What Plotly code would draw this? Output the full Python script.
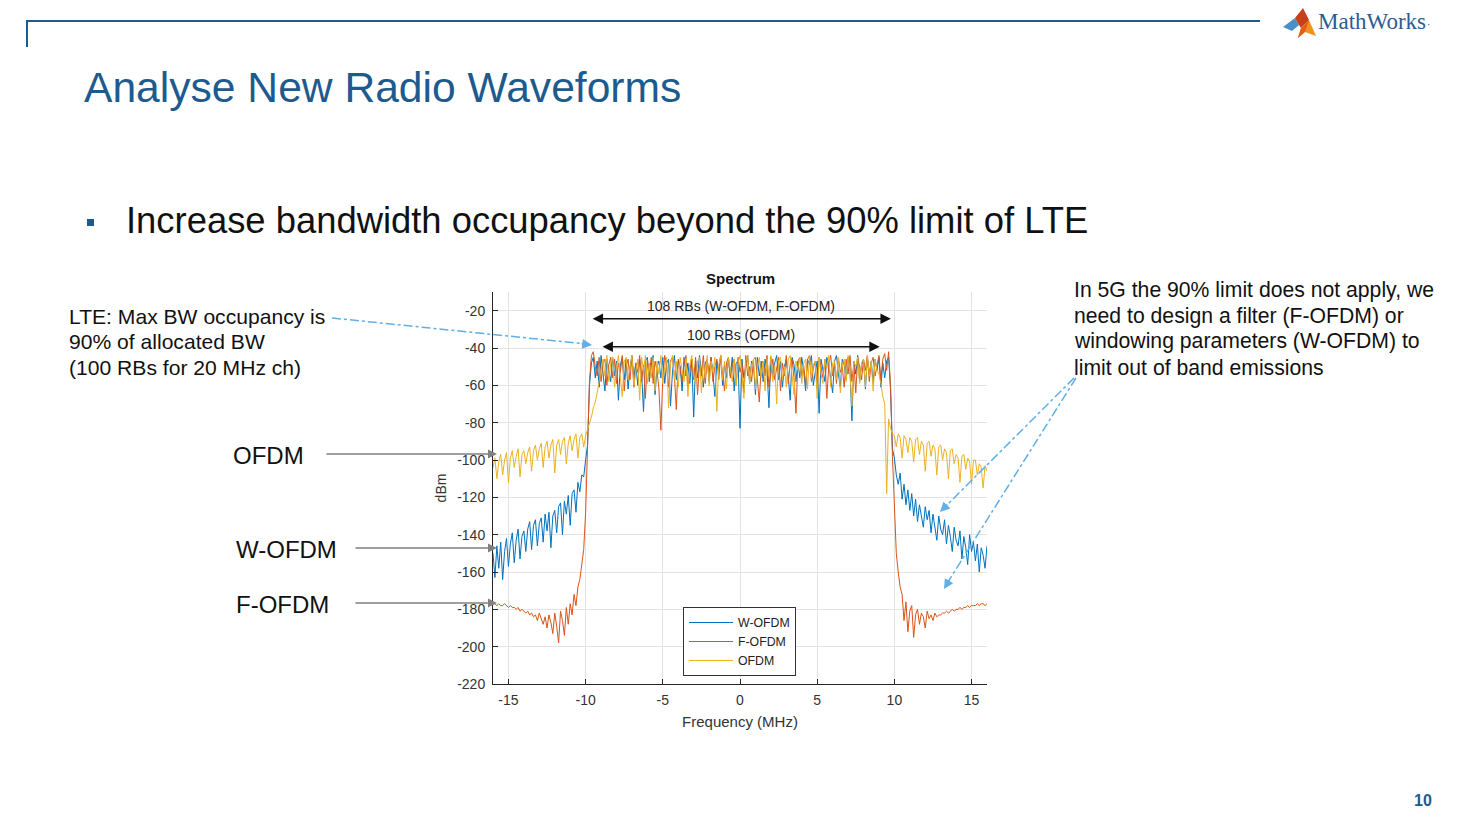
import numpy as np
import plotly.graph_objects as go

W, H = 1459, 821
HY = 813.0   # vertical reference used for placing items on the page

# ---------------- data (dBm) ----------------
# frequency grid: -16 ... 16 MHz, 0.125 MHz apart (257 points)
freq = np.round(np.arange(257) * 0.125 - 16.0, 3)

w_left = [-150, -163, -146, -158, -144, -164, -149, -142, -157,
          -145, -139, -155, -143, -137, -153, -141, -138,
          -149, -137, -133, -148, -135, -132, -146, -134,
          -131, -144, -129, -138, -128, -147, -130, -127,
          -139, -125, -123, -140, -122, -129, -119, -135,
          -118, -116, -128, -112, -117, -108, -109, -100]
w_edge_l = [-92, -60]
w_in = [-48, -45, -56, -47, -61, -44, -54, -63, -46, -52, -58, -45,
        -55, -47, -68, -49, -45, -57, -46, -62, -50, -44, -56, -48,
        -60, -46, -53, -74, -47, -45, -58, -49, -44, -65, -50, -47,
        -56, -45, -59, -48, -46, -71, -53, -44, -57, -47, -50, -63,
        -45, -55, -48, -59, -46, -77, -47, -56, -44, -52, -61, -48,
        -46, -58, -45, -54, -66, -47, -52, -44, -60, -49, -56, -46,
        -55, -45, -63, -48, -47, -83, -46, -56, -50, -44, -59, -47,
        -49, -65, -45, -55, -47, -58, -46, -52, -72, -45, -56, -48,
        -44, -57, -47, -61, -50, -46, -55, -68, -45, -49, -58, -47,
        -56, -45, -52, -63, -46, -49, -44, -60, -53, -47, -75, -46,
        -52, -58, -45, -49, -56, -64, -47, -44, -54, -61, -46, -49,
        -57, -45, -52, -79, -47, -54, -44, -58, -49, -46, -62, -45,
        -54, -47, -59, -46, -52, -45, -61, -48, -56, -47, -45]
w_edge_r = [-62, -94]
w_right = [-99, -108, -113, -107, -121, -113, -124, -116, -127,
           -118, -130, -121, -133, -124, -130, -136, -125,
           -132, -127, -139, -129, -135, -143, -130, -137,
           -140, -132, -145, -135, -141, -149, -136, -143,
           -146, -138, -153, -141, -147, -156, -140, -149,
           -144, -154, -145, -160, -147, -151, -158, -146]

f_left = [-177, -177, -178, -177, -178, -178, -177, -178, -179,
          -178, -179, -179, -180, -179, -181, -180, -181,
          -182, -181, -183, -182, -184, -183, -186, -182,
          -185, -188, -184, -190, -183, -187, -193, -182,
          -189, -198, -181, -186, -194, -179, -188, -177,
          -183, -172, -178, -168, -164, -156, -148, -128]
f_edge_l = [-92, -58]
f_in = [-44, -42, -50, -55, -45, -58, -48, -46, -60, -49, -45, -56,
        -46, -59, -48, -53, -44, -63, -50, -46, -57, -45, -61, -48,
        -53, -44, -58, -49, -67, -46, -55, -45, -59, -47, -52, -62,
        -84, -56, -44, -50, -61, -47, -45, -55, -73, -46, -51, -58,
        -48, -44, -62, -52, -46, -57, -45, -65, -49, -55, -44, -59,
        -47, -53, -45, -58, -50, -46, -57, -44, -55, -63, -48, -45,
        -56, -49, -46, -60, -45, -53, -48, -64, -44, -55, -50, -58,
        -46, -45, -57, -69, -49, -47, -55, -44, -61, -52, -46, -57,
        -50, -45, -63, -48, -55, -44, -59, -49, -46, -56, -75, -47,
        -45, -55, -49, -60, -46, -44, -58, -51, -47, -62, -45, -50,
        -56, -46, -67, -49, -44, -55, -48, -59, -45, -53, -50, -61,
        -46, -54, -44, -58, -48, -64, -45, -50, -57, -46, -52, -44,
        -58, -48, -45, -55, -50, -44, -57, -46, -43, -52, -42]
f_edge_r = [-60, -98]
f_right = [-128, -150, -160, -168, -172, -186, -176, -192, -181,
           -178, -195, -183, -180, -188, -182, -184, -190,
           -181, -185, -183, -186, -182, -184, -183, -183,
           -182, -182, -181, -182, -181, -180, -181, -180,
           -180, -179, -180, -179, -179, -178, -179, -178,
           -178, -178, -177, -178, -177, -177, -178, -177]

o_left = [-104, -99, -110, -101, -97, -108, -100, -96, -112,
          -99, -95, -104, -98, -94, -109, -97, -95,
          -102, -96, -93, -106, -95, -92, -100, -94,
          -91, -104, -93, -90, -99, -92, -89, -107,
          -92, -89, -97, -90, -88, -102, -91, -87,
          -95, -89, -86, -99, -88, -86, -93, -87]
o_ramp_l = [-84, -80, -77, -72, -69, -64, -58, -53]
o_in = [-46, -55, -44, -58, -48, -45, -61, -50, -44, -56, -66, -47,
        -45, -57, -49, -44, -60, -53, -46, -68, -45, -52, -44, -59,
        -48, -56, -45, -63, -47, -54, -44, -59, -50, -45, -72, -48,
        -44, -57, -47, -61, -45, -52, -58, -46, -66, -49, -44, -55,
        -59, -47, -45, -64, -48, -56, -44, -60, -47, -53, -45, -74,
        -49, -44, -57, -47, -62, -45, -51, -58, -46, -60, -48, -44,
        -54, -67, -47, -44, -59, -49, -46, -62, -50, -45, -56, -47,
        -63, -46, -55, -44, -58, -49, -70, -47, -45, -57, -50, -61,
        -46, -44, -55, -65, -47, -52, -45, -59, -48, -46, -62, -44,
        -56, -49, -47, -67, -45, -54, -59, -46, -51, -44, -61, -48,
        -47, -57, -45, -64, -49, -46, -58, -44, -53, -71, -47, -50,
        -45, -59, -48, -46, -61, -44, -55, -47, -63, -46, -52]
o_ramp_r = [-54, -59, -66, -70, -118, -78, -83, -86]
o_right = [-87, -93, -86, -88, -99, -87, -89, -96, -88,
           -90, -101, -89, -88, -97, -90, -92, -106,
           -91, -90, -98, -92, -94, -108, -93, -92,
           -100, -94, -96, -110, -95, -94, -102, -97,
           -99, -112, -98, -97, -105, -99, -101, -113,
           -100, -100, -108, -102, -104, -115, -103, -106]

w_ofdm = w_left + w_edge_l + w_in + w_edge_r + w_right
f_ofdm = f_left + f_edge_l + f_in + f_edge_r + f_right
ofdm = o_left + o_ramp_l + o_in + o_ramp_r + o_right
assert len(w_ofdm) == len(f_ofdm) == len(ofdm) == len(freq), (len(w_ofdm), len(f_ofdm), len(ofdm))

series_names = ["W-OFDM", "F-OFDM", "OFDM"]
series_vals = [w_ofdm, f_ofdm, ofdm]
series_cols = ["#0072BD", "#D95319", "#EDB120"]

x_ticks = [-15, -10, -5, 0, 5, 10, 15]
y_ticks = [-220, -200, -180, -160, -140, -120, -100, -80, -60, -40, -20]

# ---------------- figure ----------------
FONT = "Liberation Sans, Arial, sans-serif"
BLUE = "#1D5B8F"


def px(x):
    return x / W


def py(y):
    return 1 - y / HY


fig = go.Figure()
for name, vals, col in zip(series_names, series_vals, series_cols):
    fig.add_trace(go.Scatter(x=freq, y=vals, mode="lines", name=name,
                             line=dict(color=col, width=1)))

axis_common = dict(showgrid=True, gridcolor="#e3e3e3", gridwidth=1,
                   showline=True, linecolor="#262626", linewidth=1,
                   ticks="inside", ticklen=5, tickcolor="#262626",
                   tickfont=dict(size=14, color="#333333", family=FONT),
                   zeroline=False, mirror=False)

fig.update_layout(
    width=W, height=H, autosize=False, margin=dict(l=0, r=0, t=0, b=0),
    paper_bgcolor="white", plot_bgcolor="white",
    font=dict(family=FONT, color="#222222"),
    xaxis=dict(domain=[px(493), px(987)], range=[-16, 16], tickvals=x_ticks,
               ticktext=[str(v) for v in x_ticks], ticklabelstandoff=3,
               title=dict(text="Frequency (MHz)", font=dict(size=15, color="#333333"), standoff=9),
               **axis_common),
    yaxis=dict(domain=[py(684), py(292)], range=[-220, -10], tickvals=y_ticks,
               ticktext=[str(v) for v in y_ticks], ticklabelstandoff=4,
               title=dict(text="dBm", font=dict(size=14, color="#333333"), standoff=7),
               **axis_common),
    legend=dict(x=px(683), y=py(607), xanchor="left", yanchor="top",
                bgcolor="white", bordercolor="#333333", borderwidth=1,
                font=dict(size=12.3, color="#222222", family=FONT),
                tracegroupgap=0, itemwidth=44),
    showlegend=True,
)

ann = []
shapes = []


def text(x, y, s, size, color="#111111", anchor="left", bold=False, family=FONT):
    if bold:
        s = "<b>" + s + "</b>"
    if anchor == "left":
        x = x - 1
    ann.append(dict(xref="paper", yref="paper", x=px(x), y=py(y), text=s,
                    showarrow=False, xanchor=anchor, yanchor="middle", borderpad=0,
                    font=dict(size=size, color=color, family=family)))


# header
shapes.append(dict(type="line", xref="paper", yref="paper", x0=px(27), x1=px(1260),
                   y0=py(21), y1=py(21), line=dict(color=BLUE, width=2)))
shapes.append(dict(type="line", xref="paper", yref="paper", x0=px(27), x1=px(27),
                   y0=py(20), y1=py(47), line=dict(color=BLUE, width=2)))

# MathWorks logo (simplified membrane)
def poly(pts, color):
    d = "M " + " L ".join(f"{px(a):.5f},{py(b):.5f}" for a, b in pts) + " Z"
    shapes.append(dict(type="path", xref="paper", yref="paper", path=d,
                       fillcolor=color, line=dict(width=0)))

poly([(1283, 27), (1295, 18), (1299, 25), (1292, 31)], "#4A90C8")
poly([(1295, 18), (1303, 8), (1309, 20), (1301, 28), (1299, 25)], "#C8401A")
poly([(1303, 8), (1309, 20), (1316, 36), (1305, 32), (1298, 38), (1301, 28), (1309, 20)], "#F0901E")
poly([(1301, 28), (1309, 20), (1305, 32), (1298, 38)], "#E0601A")
text(1318, 22, "MathWorks", 23, color="#2C5C93", family="Liberation Serif, Times New Roman, serif")
text(1428, 24, "·", 10, color="#2C5C93", anchor="center")

# titles
text(84, 87, "Analyse New Radio Waveforms", 42.6, color=BLUE)
shapes.append(dict(type="rect", xref="paper", yref="paper", x0=px(87), x1=px(94),
                   y0=py(226), y1=py(219), fillcolor=BLUE, line=dict(width=0)))
text(126, 221, "Increase bandwidth occupancy beyond the 90% limit of LTE", 36.4, color="#111111")

# left notes
for i, s in enumerate(["LTE: Max BW occupancy is", "90% of allocated BW", "(100 RBs for 20 MHz ch)"]):
    text(69, 316 + i * 25.5, s, 21.1)
# right notes
for i, s in enumerate(["In 5G the 90% limit does not apply, we", "need to design a filter (F-OFDM) or",
                       "windowing parameters (W-OFDM) to", "limit out of band emissions"]):
    text(1074, 290 + i * 25.7, s, 21.2)

# waveform labels with gray arrows
for lbl, lx, ly, tx in [("OFDM", 233, 455, 325), ("W-OFDM", 236, 549, 354), ("F-OFDM", 236, 604, 354)]:
    text(lx, ly, lbl, 24)
    ann.append(dict(xref="paper", yref="paper", x=px(497), y=py(ly - 1), ax=tx - 497, ay=0,
                    text="", showarrow=True, arrowhead=2, arrowsize=1.2, arrowwidth=1.5,
                    arrowcolor="#808080"))

# light blue dash-dot pointers
LB = "#62AEE6"
for (x0, y0, x1, y1) in [(332, 318, 586, 344), (1074, 378, 945, 507), (1076, 378, 948, 582)]:
    shapes.append(dict(type="line", xref="paper", yref="paper", x0=px(x0), y0=py(y0),
                       x1=px(x1), y1=py(y1), line=dict(color=LB, width=1.5, dash="dashdot")))
for (hx, hy, ax, ay) in [(592, 345, -12, -1.3), (940, 512, 9, -9), (944, 589, 6, -10)]:
    ann.append(dict(xref="paper", yref="paper", x=px(hx), y=py(hy), ax=ax, ay=ay, text="",
                    showarrow=True, arrowhead=2, arrowsize=1.3, arrowwidth=1.5, arrowcolor=LB))

# chart title
text(740, 278, "Spectrum", 15, color="#111111", anchor="center", bold=True)

# RB span arrows (data coordinates)
for (xa, xb, yv, label, ly) in [(-9.64, 9.77, -24.3, "108 RBs (W-OFDM, F-OFDM)", 306),
                                (-9.0, 9.05, -39.3, "100 RBs (OFDM)", 335)]:
    ann.append(dict(xref="x", yref="y", axref="x", ayref="y", x=xb, y=yv, ax=xa, ay=yv,
                    text="", showarrow=True, arrowhead=2, startarrowhead=2, arrowside="end+start",
                    arrowsize=1.3, startarrowsize=1.3, arrowwidth=1.6, arrowcolor="#111111"))
    text(741, ly, label, 14, color="#222222", anchor="center")

# page number
text(1423, 800, "10", 16, color=BLUE, anchor="center", bold=True)

fig.update_layout(annotations=ann, shapes=shapes)

fig.write_html("out.html", include_plotlyjs=True,
               config={"displayModeBar": False, "responsive": False},
               post_script="document.body.style.margin='0px';document.body.style.overflow='hidden';")
